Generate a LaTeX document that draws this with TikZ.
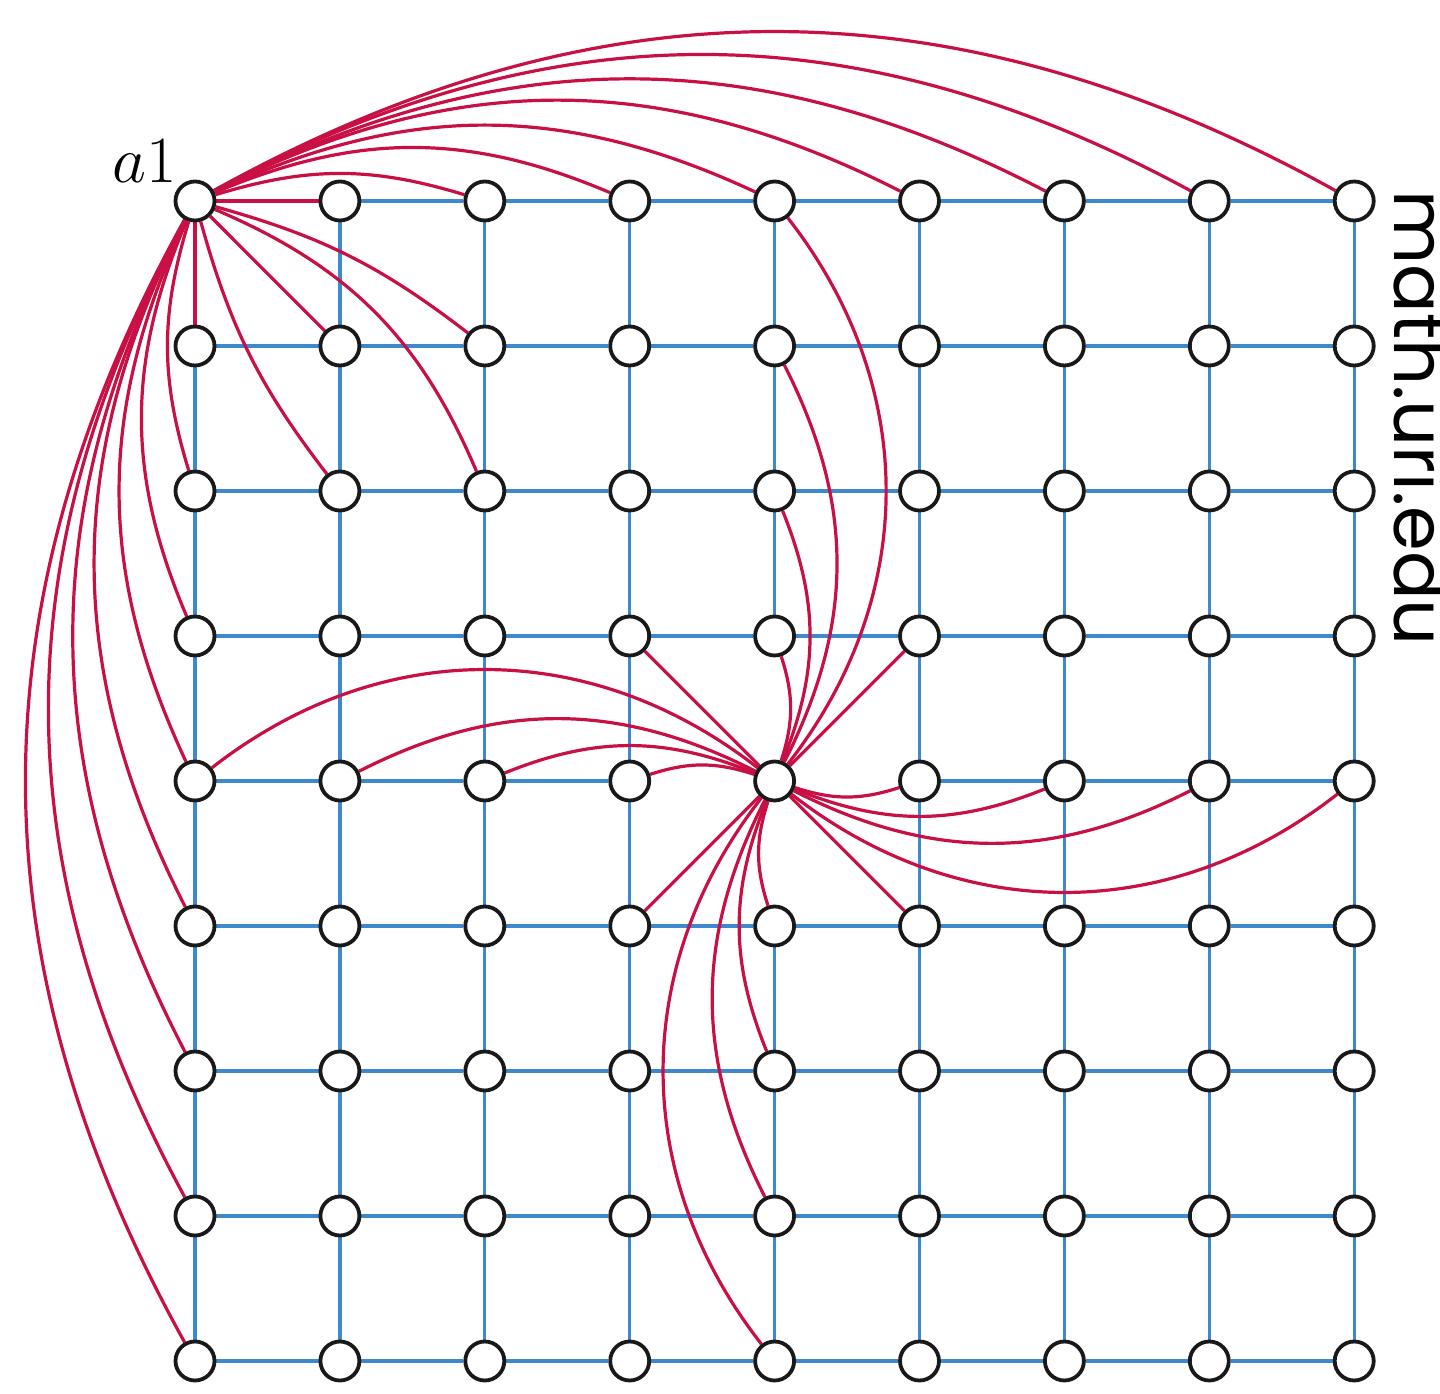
\documentclass[tikz,border=0pt]{standalone}
\usepackage{fix-cm}
\usepackage{fontspec}
\newfontfamily\urlfont{Poppins}
\usetikzlibrary{backgrounds}
\definecolor{hubred}{RGB}{200,16,68}
\definecolor{gridblue}{RGB}{62,136,206}
\begin{document}
\begin{tikzpicture}[x=0.5pt,y=0.5pt,
  vtx/.style={circle,draw=black!90,line width=1.9pt,fill=white,minimum size=19.5pt,inner sep=0pt},
  gridedge/.style={draw=gridblue,line width=1.6pt},
  hub/.style={draw=hubred,line width=1.6pt}]
\useasboundingbox (0,0) rectangle (1440,1393);
% 9x9 lattice of vertices, v<column>-<row>, row 1 on top
\foreach \i in {1,...,9}{
  \foreach \j in {1,...,9}{
    \node[vtx] (v\i-\j) at ({195+144.9*(\i-1)},{1393-201-145*(\j-1)}) {};
  }
}
\node[anchor=base east,inner sep=0pt,font=\fontsize{33}{36}\selectfont] (lab) at (177,1210) {$a1$};
\node[anchor=base west,inner sep=0pt,rotate=-90,font=\urlfont\fontsize{36}{40}\selectfont] (url) at (1394,1203) {math.uri.edu};
\begin{pgfonlayer}{background}
  % lattice edges (those replaced by red edges are left out)
  \foreach \i in {1,...,8}{
    \foreach \j in {1,...,9}{
      \pgfmathtruncatemacro\ni{\i+1}
      \pgfmathtruncatemacro\nogrid{(\i==1 && \j==1) || (\j==5 && (\i==4 || \i==5))}
      \ifnum\nogrid=0 \draw[gridedge] (v\i-\j) -- (v\ni-\j);\fi
    }
  }
  \foreach \i in {1,...,9}{
    \foreach \j in {1,...,8}{
      \pgfmathtruncatemacro\nj{\j+1}
      \pgfmathtruncatemacro\nogrid{(\i==1 && \j==1) || (\i==5 && (\j==4 || \j==5))}
      \ifnum\nogrid=0 \draw[gridedge] (v\i-\j) -- (v\i-\nj);\fi
    }
  }
  % long-range edges from the corner vertex a1
  \draw[hub] (v1-1) -- (v2-1);
  \draw[hub] (v1-1) -- (v1-2);
  \draw[hub] (v1-1) -- (v2-2);
  \draw[hub] (v1-1) to[bend left=11] (v3-2);
  \draw[hub] (v1-1) to[bend right=11] (v2-3);
  \draw[hub] (v1-1) to[bend left=22] (v3-3);
  \foreach \k/\a in {3/17,4/23,5/25,6/27,7/27.5,8/28.5,9/29}{
    \draw[hub] (v1-1) to[bend left=\a] (v\k-1);
    \draw[hub] (v1-1) to[bend right=\a] (v1-\k);
  }
  % pinwheel of edges from the centre vertex
  \draw[hub] (v5-5) -- (v4-4);
  \draw[hub] (v5-5) -- (v6-4);
  \draw[hub] (v5-5) -- (v6-6);
  \draw[hub] (v5-5) -- (v4-6);
  \foreach \s/\a in {1/18,2/22,3/27,4/38}{
    \pgfmathtruncatemacro\lo{5-\s}
    \pgfmathtruncatemacro\hi{5+\s}
    \draw[hub] (v5-5) to[bend right=\a] (v5-\lo);
    \draw[hub] (v5-5) to[bend right=\a] (v\lo-5);
    \draw[hub] (v5-5) to[bend right=\a] (v\hi-5);
    \draw[hub] (v5-5) to[bend right=\a] (v5-\hi);
  }
\end{pgfonlayer}
\end{tikzpicture}
\end{document}
